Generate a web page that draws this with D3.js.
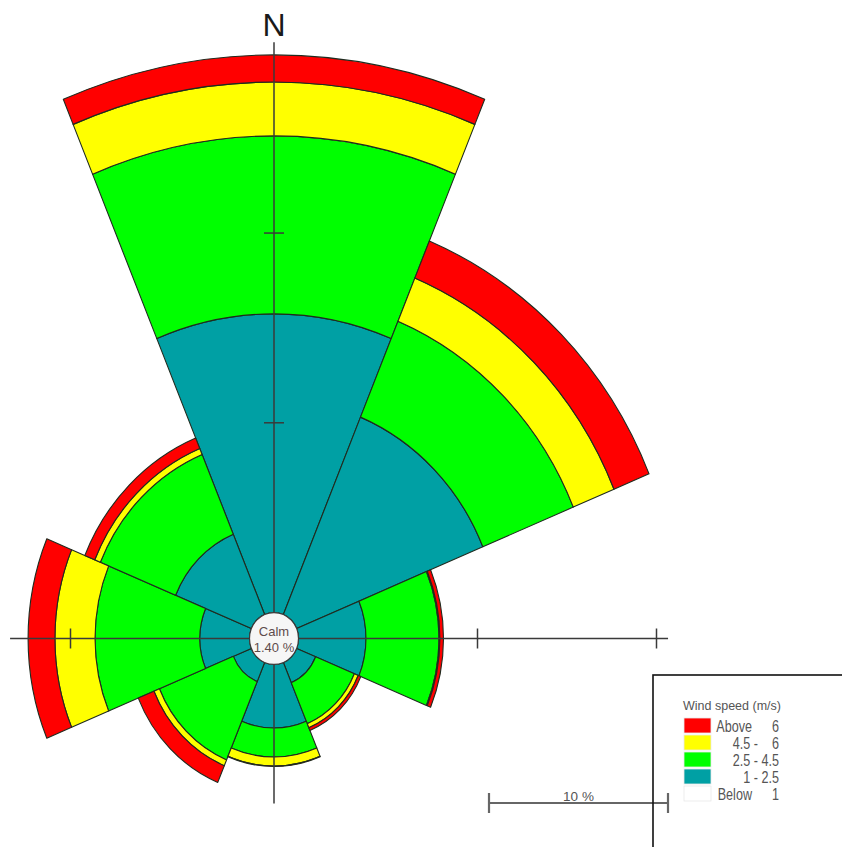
<!DOCTYPE html>
<html>
<head>
<meta charset="utf-8">
<script src="https://cdn.jsdelivr.net/npm/d3@7"></script>
<style>
  html, body { margin: 0; padding: 0; background: #fff; }
  svg { display: block; }
</style>
</head>
<body>
<svg id="chart" width="842" height="847"></svg>
<script>
// Wind directions (8 sectors, 45 degrees each)
const directions = ["N", "NE", "E", "SE", "S", "SW", "W", "NW"];

// Frequency (%) of each wind speed class, per direction
const freq1to25  = [15.74, 11.26, 3.77, 1.15, 3.35, 1.09, 2.77, 4.58];
const freq25to45 = [ 9.38,  5.47, 4.08, 2.34, 1.53, 4.47, 5.86, 4.55];
const freq45to6  = [ 2.84,  2.46, 0.05, 0.23, 0.47, 0.33, 2.24, 0.34];
const freqAbove6 = [ 1.43,  2.12, 0.20, 0.16, 0.03, 0.95, 1.50, 0.60];

const calmPct = 1.40;

// Legend entries: speed class labels (m/s)
const legendWords  = ["Above", "4.5 -", "2.5 -", "1 -", "Below"];
const legendValues = ["6", "6", "4.5", "2.5", "1"];
const legendColors = ["#ff0000", "#ffff00", "#00ff00", "#00a0a4", "#ffffff"];

// Radial grid ticks (%) and scale bar length (%)
const ringTicks = [10, 20, 30];
const scaleBarPct = 10;

const svg = d3.select("#chart");
const cx = 274, cy = 638.5, yStretch = 1.06;
const calmR = 24.5;
const font = "Liberation Sans, Arial, sans-serif";

// Frequency -> radius, bars start at the calm circle
const r = d3.scaleLinear().domain([0, 10]).range([calmR, calmR + 179]);
// Direction -> start angle, N centred on 12 o'clock
const angle = d3.scaleBand().domain(directions)
  .range([-Math.PI / 8, 2 * Math.PI - Math.PI / 8]).padding(0);

const table = directions.map((d, i) => ({
  dir: d, c1: freq1to25[i], c2: freq25to45[i], c3: freq45to6[i], c4: freqAbove6[i]
}));
const keys = ["c1", "c2", "c3", "c4"];
const fill = { c1: "#00a0a4", c2: "#00ff00", c3: "#ffff00", c4: "#ff0000" };
const stacked = d3.stack().keys(keys)(table);

const rose = svg.append("g")
  .attr("transform", `translate(${cx},${cy}) scale(1,${yStretch})`);

const arc = d3.arc();
stacked.forEach(layer => {
  rose.append("g").selectAll("path").data(layer).join("path")
    .attr("d", d => arc({
      innerRadius: r(d[0]),
      outerRadius: r(d[1]),
      startAngle: angle(d.data.dir),
      endAngle: angle(d.data.dir) + angle.bandwidth()
    }))
    .attr("fill", fill[layer.key])
    .attr("stroke", "#1f2b1f")
    .attr("stroke-width", 1.1)
    .attr("stroke-linejoin", "round")
    .attr("vector-effect", "non-scaling-stroke");
});

// Extent of the rose in each compass direction, for the axis lengths
let minX = 0, maxX = 0, minY = 0, maxY = 0;
stacked[stacked.length - 1].forEach(d => {
  const R = r(d[1]);
  const a0 = angle(d.data.dir), a1 = a0 + angle.bandwidth();
  d3.range(0, 1.0001, 1 / 90).forEach(t => {
    const a = a0 + (a1 - a0) * t;
    const x = R * Math.sin(a), y = -R * Math.cos(a);
    minX = Math.min(minX, x); maxX = Math.max(maxX, x);
    minY = Math.min(minY, y); maxY = Math.max(maxY, y);
  });
});
const ext = { right: maxX + 19, left: -minX + 18, top: -minY + 12, bottom: maxY + 20 };

const axes = rose.append("g")
  .attr("stroke", "#3a3a3a")
  .attr("stroke-width", 1.5);
const axisLine = (x1, y1, x2, y2) => axes.append("line")
  .attr("x1", x1).attr("y1", y1).attr("x2", x2).attr("y2", y2)
  .attr("vector-effect", "non-scaling-stroke");
axisLine(-ext.left, 0, ext.right, 0);
axisLine(0, -ext.top, 0, ext.bottom);

const tickHalf = 10;
ringTicks.forEach(t => {
  const R = r(t);
  const h = tickHalf / yStretch;
  if (R < ext.right - 5)  axisLine(R, -h, R, h);
  if (R < ext.left - 5)   axisLine(-R, -h, -R, h);
  if (R < ext.top - 5)    axisLine(-tickHalf, -R, tickHalf, -R);
  if (R < ext.bottom - 5) axisLine(-tickHalf, R, tickHalf, R);
});

// Calm circle
rose.append("circle").attr("r", calmR)
  .attr("fill", "#f6f6f6").attr("stroke", "#3a3a3a").attr("stroke-width", 1.2)
  .attr("vector-effect", "non-scaling-stroke");

svg.append("text").attr("x", cx).attr("y", cy - 3)
  .attr("text-anchor", "middle").attr("font-family", font)
  .attr("font-size", 13).attr("fill", "#5e4c4c").text("Calm");
svg.append("text").attr("x", cx).attr("y", cy + 13.5)
  .attr("text-anchor", "middle").attr("font-family", font)
  .attr("font-size", 13).attr("fill", "#5e4c4c").text(d3.format(".2f")(calmPct) + " %");

// North label
svg.append("text")
  .attr("x", cx).attr("y", cy - ext.top * yStretch - 6)
  .attr("text-anchor", "middle").attr("font-family", font)
  .attr("font-size", 32).attr("fill", "#1a1a1a").text("N");

// Scale bar
const barX0 = 489, barY = 803;
const barLen = r(scaleBarPct) - r(0);
const bar = svg.append("g").attr("stroke", "#666").attr("stroke-width", 2.2);
bar.append("line").attr("x1", barX0).attr("x2", barX0 + barLen).attr("y1", barY).attr("y2", barY);
bar.append("line").attr("x1", barX0).attr("x2", barX0).attr("y1", barY - 10).attr("y2", barY + 10);
bar.append("line").attr("x1", barX0 + barLen).attr("x2", barX0 + barLen).attr("y1", barY - 10).attr("y2", barY + 10);
svg.append("text").attr("x", barX0 + barLen / 2).attr("y", barY - 2)
  .attr("text-anchor", "middle").attr("font-family", font)
  .attr("font-size", 13.5).attr("fill", "#555").text(scaleBarPct + " %");

// Legend
const legend = svg.append("g");
legend.append("rect").attr("x", 653).attr("y", 675).attr("width", 220).attr("height", 220)
  .attr("fill", "none").attr("stroke", "#111").attr("stroke-width", 1.6);
legend.append("text").attr("x", 683).attr("y", 710)
  .attr("font-family", font).attr("font-size", 12.5)
  .attr("fill", "#555").text("Wind speed (m/s)");
const rowY = d3.scaleBand().domain(d3.range(legendWords.length)).range([718, 718 + 17 * legendWords.length]);
const rows = legend.selectAll("g.row").data(legendWords).join("g").attr("class", "row")
  .attr("transform", (d, i) => `translate(684,${rowY(i)})`);
rows.append("rect").attr("width", 27).attr("height", 15)
  .attr("fill", (d, i) => legendColors[i]).attr("stroke", "#e8e8e8").attr("stroke-width", 0.8);
rows.append("text")
  .attr("transform", (d, i) => `translate(${(i === 0 || i === 4) ? 68 : 74},13.5) scale(0.9,1.12)`)
  .attr("text-anchor", "end").attr("font-family", font)
  .attr("font-size", 14).attr("fill", "#555").text(d => d);
rows.append("text")
  .attr("transform", "translate(95,13.5) scale(0.9,1.12)")
  .attr("text-anchor", "end").attr("font-family", font)
  .attr("font-size", 14).attr("fill", "#555").text((d, i) => legendValues[i]);
</script>
</body>
</html>
